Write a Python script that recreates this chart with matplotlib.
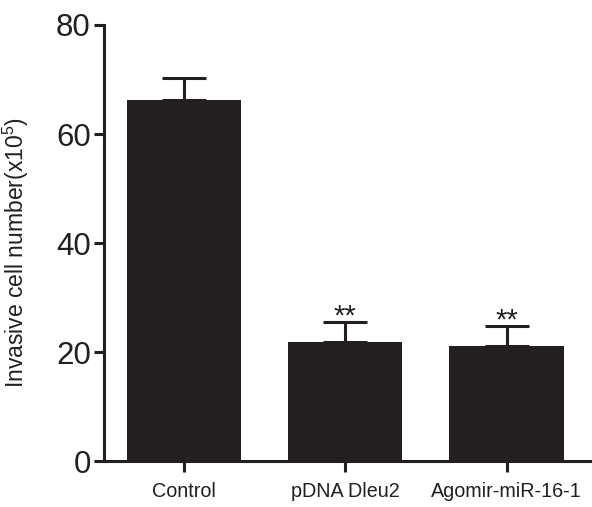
import matplotlib
matplotlib.use("Agg")
import matplotlib.pyplot as plt

categories = ["Control", "pDNA Dleu2", "Agomir-miR-16-1"]
means = [66.2, 21.8, 21.1]
errors = [4.1, 3.7, 3.7]
sig = ["", "**", "**"]
yticks = [0, 20, 40, 60, 80]

plt.rcParams['font.family'] = ['Liberation Sans', 'DejaVu Sans']
plt.rcParams['mathtext.fontset'] = 'custom'
plt.rcParams['mathtext.rm'] = 'Liberation Sans'

color = '#231f20'
fig = plt.figure(figsize=(5.92, 5.07), dpi=100)
ax = fig.add_axes([0.1757, 0.0907, 0.8243, 0.86])

x = list(range(len(categories)))
ax.bar(x, means, width=0.71, color=color, zorder=2)
ax.errorbar(x, means, yerr=[[0]*len(errors), errors], fmt='none', ecolor=color,
            elinewidth=2.2, capsize=15.5, capthick=2.2, zorder=1)
for xi, m, e, s in zip(x, means, errors, sig):
    if s:
        ax.annotate(s, xy=(xi, m + e), xytext=(0, -2), textcoords='offset points',
                    ha='center', va='baseline', fontsize=21, color=color)

ax.set_xlim(-0.495, 2.53)
ax.set_ylim(0, 80)
ax.set_yticks(yticks)
ax.set_yticklabels([str(v) for v in yticks], fontsize=22.5, color=color)
ax.set_xticks(x)
ax.set_xticklabels(categories, fontsize=14.2, color=color)
ax.set_ylabel(r'Invasive cell number(x10$^5$)', fontsize=16.5, color=color)
ax.yaxis.set_label_coords(-0.150, 0.478)

for side in ['top', 'right']:
    ax.spines[side].set_visible(False)
for side in ['left', 'bottom']:
    ax.spines[side].set_linewidth(2.2)
    ax.spines[side].set_color(color)
ax.tick_params(axis='y', length=7.5, width=2.2, color=color, pad=2)
ax.tick_params(axis='x', length=8, width=2.2, color=color, pad=7)

fig.savefig('out.png', dpi=100)
